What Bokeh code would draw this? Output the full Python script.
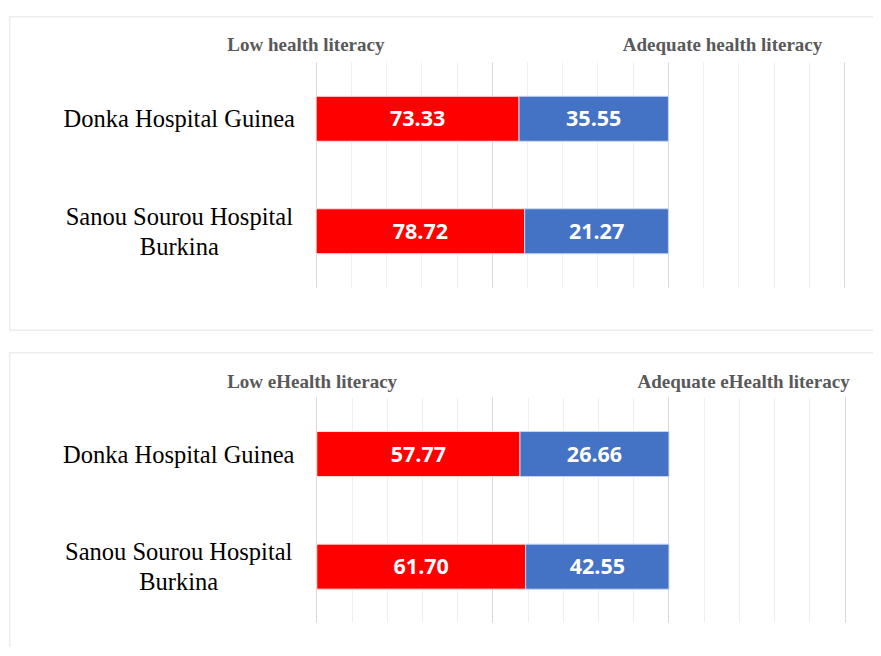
from bokeh.plotting import figure
from bokeh.models import ColumnDataSource, Range1d, Grid, FixedTicker, Span
from bokeh.layouts import column
from bokeh.core.properties import value
from bokeh.embed import file_html
from bokeh.resources import INLINE

# ---------------- data ----------------
hospitals = ["Donka Hospital Guinea", "Sanou Sourou Hospital\nBurkina"]

health_series = ["Low health literacy", "Adequate health literacy"]
health_low_label = ["73.33", "78.72"]
health_adequate_label = ["35.55", "21.27"]
health_low_bar = [57.6, 59.2]          # displayed segment lengths (% of bar)
health_adequate_bar = [42.4, 40.8]

ehealth_series = ["Low eHealth literacy", "Adequate eHealth literacy"]
ehealth_low_label = ["57.77", "61.70"]
ehealth_adequate_label = ["26.66", "42.55"]
ehealth_low_bar = [57.7, 59.3]
ehealth_adequate_bar = [42.3, 40.7]

x_ticks = list(range(0, 151, 10))
x_major_ticks = [0, 50, 100, 150]

RED = "#FF0000"
BLUE = "#4472C4"
BORDER = "#D9D9D9"
W = 873


def make_panel(series, low_bar, adq_bar, low_lbl, adq_lbl, height, mb_top, mb_bottom, mb_left,
               x_start, ppu_x, y_range, cat_x, legend_x, legend_y, bottom_border):
    n = len(hospitals)
    ypos = [n - i - 0.5 for i in range(n)]
    low_end = low_bar
    adq_end = [a + b for a, b in zip(low_bar, adq_bar)]
    src = ColumnDataSource(dict(
        cat=hospitals, y=ypos, low=low_end, adq=adq_end,
        low_mid=[v / 2 for v in low_end],
        adq_mid=[a + b / 2 for a, b in zip(low_bar, adq_bar)],
        low_lbl=low_lbl, adq_lbl=adq_lbl,
    ))
    x_end = x_start + (W - mb_left) / ppu_x
    p = figure(width=W, height=height, output_backend="svg", toolbar_location=None,
               x_range=Range1d(x_start, x_end), y_range=Range1d(*y_range),
               x_axis_location=None, y_axis_location=None,
               min_border_left=mb_left, min_border_right=0,
               min_border_top=mb_top, min_border_bottom=mb_bottom)
    p.outline_line_color = None
    p.background_fill_color = "white"
    p.border_fill_color = "white"
    p.xgrid.visible = False
    p.ygrid.visible = False

    minor = Grid(dimension=0, ticker=FixedTicker(ticks=x_ticks),
                 grid_line_color="#EFEFEF", grid_line_width=1)
    major = Grid(dimension=0, ticker=FixedTicker(ticks=x_major_ticks),
                 grid_line_color="#D9D9D9", grid_line_width=1)
    minor.cross_bounds = (0, n)
    major.cross_bounds = (0, n)
    p.add_layout(minor)
    p.add_layout(major)

    p.hbar(y="y", left=0, right="low", height=0.4, source=src,
           fill_color=RED, line_color="#FFE0E0", line_width=1)
    p.hbar(y="y", left="low", right="adq", height=0.4, source=src,
           fill_color=BLUE, line_color="#C9D6EE", line_width=1)

    p.text(x="low_mid", y="y", text="low_lbl", source=src, text_align="center",
           text_baseline="middle", text_color="white", text_font=value("Open Sans"),
           text_font_style="bold", text_font_size="21.5px")
    p.text(x="adq_mid", y="y", text="adq_lbl", source=src, text_align="center",
           text_baseline="middle", text_color="white", text_font=value("Open Sans"),
           text_font_style="bold", text_font_size="21.5px")

    p.text(x=[cat_x] * n, y=ypos, text=hospitals, text_align="center",
           text_baseline="middle", text_color="black", text_font=value("Liberation Serif"),
           text_font_size="24.5px", text_line_height=1.1)

    p.text(x=legend_x, y=[legend_y] * len(series), text=series, text_align="left",
           text_baseline="middle", text_color="#595959", text_font=value("Liberation Serif"),
           text_font_style="bold", text_font_size="19px")

    p.add_layout(Span(location=y_range[1], dimension="width", line_color=BORDER, line_width=1.5))
    p.add_layout(Span(location=x_start, dimension="height", line_color=BORDER, line_width=1.5))
    if bottom_border:
        p.add_layout(Span(location=y_range[0], dimension="width", line_color=BORDER, line_width=1.5))
    return p


p1 = make_panel(health_series, health_low_bar, health_adequate_bar,
                health_low_label, health_adequate_label,
                height=341, mb_top=16, mb_bottom=11, mb_left=8,
                x_start=-87.05, ppu_x=3.5267, y_range=(-0.382, 2.409),
                cat_x=-38.85, legend_x=[-25.24, 87.05], legend_y=2.16, bottom_border=True)

p2 = make_panel(ehealth_series, ehealth_low_bar, ehealth_adequate_bar,
                ehealth_low_label, ehealth_adequate_label,
                height=306, mb_top=11, mb_bottom=0, mb_left=9,
                x_start=-87.25, ppu_x=3.522, y_range=(-0.218, 2.402),
                cat_x=-39.2, legend_x=[-25.44, 91.06], legend_y=2.147, bottom_border=False)

layout = column(p1, p2, spacing=0)
open("out.html", "w").write(file_html(layout, INLINE))
